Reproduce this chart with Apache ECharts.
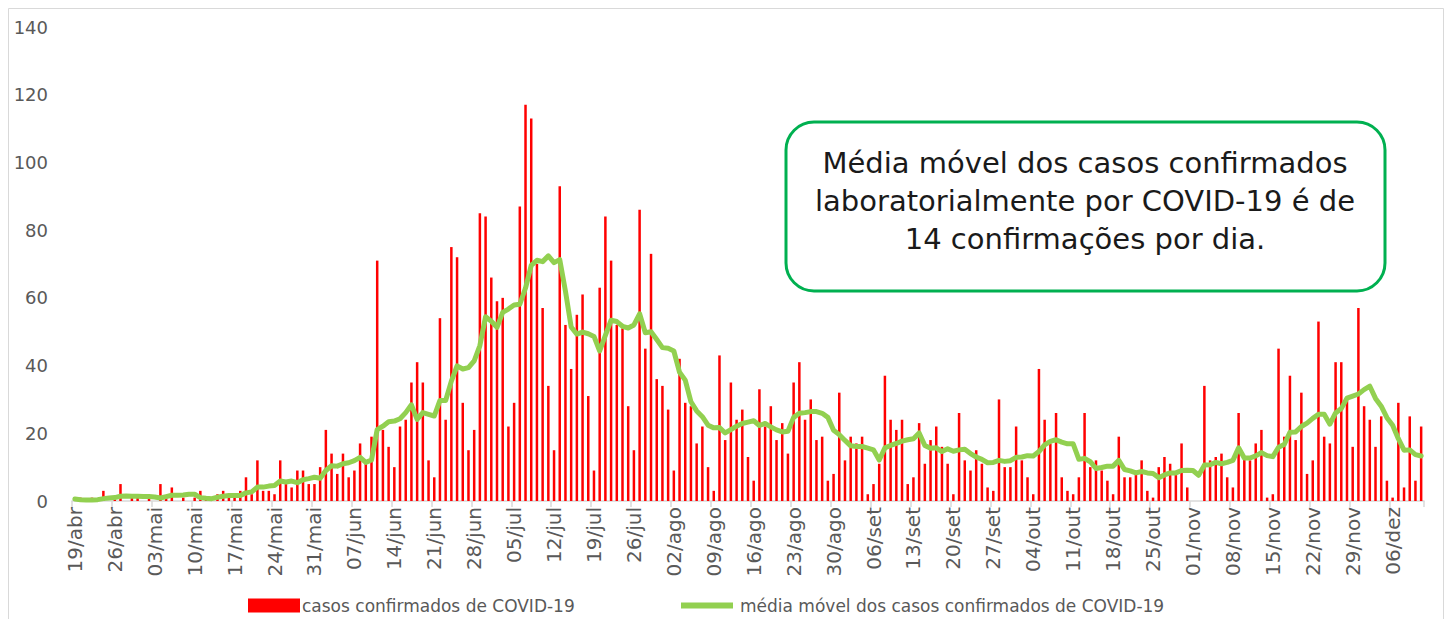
<!DOCTYPE html>
<html>
<head>
<meta charset="utf-8">
<script src="https://cdn.jsdelivr.net/npm/echarts@6/dist/echarts.min.js"></script>
<style>html,body{margin:0;padding:0;background:#fff}#c{width:1451px;height:619px}</style>
</head>
<body>
<div id="c"></div>
<script>
// Weekly tick labels (every 7th day)
const tickLabels = ['19/abr','26/abr','03/mai','10/mai','17/mai','24/mai','31/mai','07/jun','14/jun','21/jun','28/jun','05/jul','12/jul','19/jul','26/jul','02/ago','09/ago','16/ago','23/ago','30/ago','06/set','13/set','20/set','27/set','04/out','11/out','18/out','25/out','01/nov','08/nov','15/nov','22/nov','29/nov','06/dez'];
// Daily categories: 19/abr .. 11/dez
const monthNames = ['abr','mai','jun','jul','ago','set','out','nov','dez'];
const monthFirstDay = [19,1,1,1,1,1,1,1,1];
const monthLastDay = [30,31,30,31,31,30,31,30,11];
const categories = [];
monthNames.forEach((m, k) => {
  for (let d = monthFirstDay[k]; d <= monthLastDay[k]; d++) {
    categories.push((d < 10 ? '0' : '') + d + '/' + m);
  }
});

// Daily confirmed cases
const casos = [
0,1,0,1,0,3,0,1,5,0,1,1,0,1,0,5,1,4,0,1,0,1,3,1,0,2,3,1,1,3,
7,2,12,3,3,2,12,5,4,9,9,5,5,10,21,14,8,14,7,9,17,11,19,71,21,16,10,22,24,35,
41,35,12,7,54,24,75,72,29,15,21,85,84,66,59,60,22,29,87,117,113,70,57,34,15,93,52,39,55,61,
31,9,63,84,71,52,51,28,15,86,45,73,36,34,27,9,42,29,28,17,22,10,3,43,18,35,24,27,13,6,
33,22,28,18,23,14,35,41,24,30,18,19,6,8,32,12,19,17,19,2,5,11,37,24,21,24,5,7,23,11,
18,22,16,11,2,26,12,9,15,11,4,3,30,10,10,22,12,7,2,39,24,17,26,7,3,2,7,26,10,12,
9,6,2,19,7,7,8,12,3,1,10,13,11,8,17,4,0,0,34,12,13,14,7,4,26,13,12,17,21,1,
2,45,19,37,18,32,8,12,53,19,17,41,41,30,16,57,28,24,16,25,6,1,29,4,25,6,22
];

// Moving average of confirmed cases
const mediaMovel = [
0.6,0.4,0.3,0.3,0.4,0.7,0.9,1.0,1.4,1.5,1.4,1.4,1.3,1.3,1.2,0.9,1.3,1.7,1.7,1.8,
2.0,2.0,1.0,0.8,0.7,1.1,1.4,1.6,1.6,1.6,2.4,2.7,4.1,4.1,4.4,4.6,5.9,5.6,5.9,5.4,
6.3,6.6,7.0,6.7,9.0,10.4,10.3,11.0,11.3,11.9,12.9,11.4,12.1,21.1,22.1,23.4,23.6,24.3,26.1,28.4,
24.1,26.1,25.6,25.1,29.7,29.7,35.4,39.9,39.0,39.4,41.4,45.9,54.4,53.1,51.3,55.7,56.7,57.9,58.1,62.9,
69.6,71.1,70.7,72.4,70.4,71.3,62.0,51.4,49.3,49.9,49.4,48.6,44.3,48.9,53.4,53.0,51.6,51.1,52.0,55.3,
49.7,50.0,47.7,45.3,45.1,44.3,38.0,35.7,29.3,26.6,24.9,22.4,21.6,21.7,20.1,21.1,22.1,22.9,23.3,23.7,
22.3,22.9,21.9,21.0,20.4,20.6,24.7,25.9,26.1,26.4,26.4,25.9,24.7,20.9,19.6,17.9,16.3,16.1,16.1,15.6,
15.1,12.1,15.7,16.4,17.0,17.7,18.1,18.4,20.1,16.4,15.6,15.7,14.6,15.4,14.7,15.1,15.3,14.0,13.0,12.3,
11.3,11.4,12.0,11.7,11.9,12.9,13.0,13.4,13.3,14.6,16.6,17.6,18.1,17.4,16.9,16.9,12.3,12.6,11.6,9.6,
9.9,10.3,10.3,12.0,9.3,8.9,8.3,8.7,8.3,8.1,6.9,7.7,8.3,8.3,9.0,9.1,9.0,7.6,10.6,10.7,
11.4,11.0,11.4,12.0,15.7,12.7,12.7,13.3,14.3,13.4,13.1,15.9,16.7,20.3,20.4,22.0,23.0,24.4,25.6,25.6,
22.7,26.0,27.3,30.4,31.0,31.6,32.9,33.9,30.3,28.0,24.6,22.4,18.4,15.0,15.1,13.7,13.3
];

const yTicks = [0, 20, 40, 60, 80, 100, 120, 140];
const seriesNames = ['casos confirmados de COVID-19', 'média móvel dos casos confirmados de COVID-19'];
const boxText = 'Média móvel dos casos confirmados\nlaboratorialmente por COVID-19 é de\n14 confirmações por dia.';

const FONT = 'DejaVu Sans';
const chart = echarts.init(document.getElementById('c'), null, {renderer: 'svg'});
chart.setOption({
  animation: false,
  backgroundColor: '#ffffff',
  grid: {left: 72, right: 27, top: 27, bottom: 118, containLabel: false},
  xAxis: {
    type: 'category',
    data: categories,
    boundaryGap: true,
    axisLine: {show: true, lineStyle: {color: '#d9d9d9', width: 1.5}},
    axisTick: {show: true, interval: 6, length: 6, lineStyle: {color: '#d9d9d9', width: 1.5}},
    axisLabel: {show: true, interval: 6, rotate: 90, hideOverlap: false, color: '#595959', fontSize: 20, fontFamily: FONT, margin: 6},
    splitLine: {show: false}
  },
  yAxis: {
    type: 'value',
    min: yTicks[0], max: yTicks[yTicks.length - 1], interval: 20,
    axisLine: {show: false}, axisTick: {show: false},
    splitLine: {show: false},
    axisLabel: {color: '#595959', fontSize: 18, fontFamily: FONT, margin: 24}
  },
  legend: [
    {left: 243, top: 592, itemWidth: 52, itemHeight: 14, itemGap: 0,
     textStyle: {color: '#595959', fontSize: 17, fontFamily: FONT, padding: [0,0,0,-3]},
     data: [{name: seriesNames[0], icon: 'rect'}], selectedMode: false},
    {left: 676, top: 592, itemWidth: 52, itemHeight: 6, itemGap: 0,
     textStyle: {color: '#595959', fontSize: 17, fontFamily: FONT, padding: [0,0,0,2]},
     data: [{name: seriesNames[1], icon: 'rect'}], selectedMode: false}
  ],
  series: [
    {name: seriesNames[0], type: 'bar', data: casos, barWidth: 2.5,
     itemStyle: {color: '#ff0000'}},
    {name: seriesNames[1], type: 'line', data: mediaMovel, symbol: 'none', showSymbol: false, smooth: false,
     lineStyle: {color: '#92d050', width: 5, cap: 'round', join: 'round'},
     itemStyle: {color: '#92d050'}, z: 3}
  ],
  graphic: [
    {type: 'rect', silent: true, z: 0, shape: {x: 8.5, y: 8.5, width: 1435, height: 640},
     style: {fill: 'none', stroke: '#d9d9d9', lineWidth: 1}},
    {type: 'rect', z: 10, shape: {x: 786, y: 122, width: 599, height: 169, r: 28},
     style: {fill: '#ffffff', stroke: '#00b050', lineWidth: 3}},
    {type: 'text', z: 11, x: 1085, y: 201,
     style: {text: boxText, fill: '#1a1a1a', font: '29px "DejaVu Sans"', align: 'center', verticalAlign: 'middle', lineHeight: 38}}
  ]
});
</script>
</body>
</html>
